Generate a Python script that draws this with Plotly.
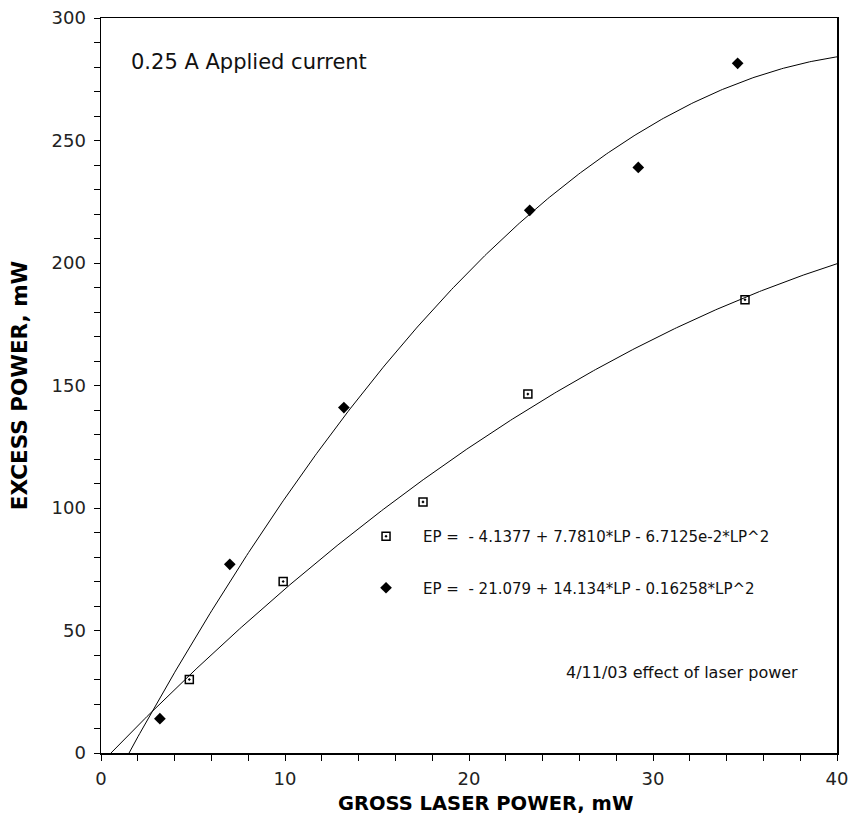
import numpy as np
import plotly.graph_objects as go

# Data
sq_x = [4.8, 9.9, 17.5, 23.2, 35.0]
sq_y = [30.0, 70.0, 102.5, 146.5, 185.0]
dia_x = [3.2, 7.0, 13.2, 23.3, 29.2, 34.6]
dia_y = [14.0, 77.0, 141.0, 221.5, 239.0, 281.5]

# Fit coefficients printed on the chart (c0, c1, c2)
sq_fit = [-4.1377, 7.7810, -6.7125e-2]
dia_fit = [-21.079, 14.134, -0.16258]

sq_label = "EP =  - 4.1377 + 7.7810*LP - 6.7125e-2*LP^2"
dia_label = "EP =  - 21.079 + 14.134*LP - 0.16258*LP^2"

x_title = "GROSS LASER POWER, mW"
y_title = "EXCESS POWER, mW"
note_top = "0.25 A Applied current"
note_bottom = "4/11/03 effect of laser power"

FONT = "DejaVu Sans"

fx = np.linspace(0, 40, 400)
def poly(c, x):
    return c[0] + c[1] * x + c[2] * x ** 2

fig = go.Figure()
fig.add_trace(go.Scatter(x=sq_x, y=sq_y, mode="markers", name=sq_label,
                         legendgroup="a",
                         marker=dict(symbol="square-open-dot", size=8, color="black",
                                     line=dict(width=1.5, color="black")),
                         cliponaxis=False))
fig.add_trace(go.Scatter(x=dia_x, y=dia_y, mode="markers", name=dia_label,
                         legendgroup="b",
                         marker=dict(symbol="diamond", size=9, color="black"),
                         cliponaxis=False))
fig.add_trace(go.Scatter(x=fx, y=poly(sq_fit, fx), mode="lines", showlegend=False,
                         line=dict(color="black", width=1)))
fig.add_trace(go.Scatter(x=fx, y=poly(dia_fit, fx), mode="lines", showlegend=False,
                         line=dict(color="black", width=1)))

axis_common = dict(showline=True, linecolor="black", linewidth=1.5, mirror=True,
                   ticks="outside", ticklen=6, tickwidth=1, tickcolor="black",
                   showgrid=False, zeroline=False, automargin=False,
                   ticklabeloverflow="allow",
                   tickfont=dict(family=FONT, size=18, color="#222"))

fig.update_xaxes(range=[0, 40], dtick=10, ticklabelstandoff=3,
                 minor=dict(dtick=2, ticks="outside", ticklen=6, tickcolor="black"),
                 **axis_common)
fig.update_yaxes(range=[0, 300], dtick=50, ticklabelstandoff=4,
                 minor=dict(dtick=10, ticks="outside", ticklen=6, tickcolor="black"),
                 title=dict(text=y_title, font=dict(family=FONT, size=21.5, color="black",
                                                     weight="bold"), standoff=18),
                 **axis_common)

fig.add_annotation(x=0.5, y=0, xref="paper", yref="paper", xanchor="center", yanchor="middle",
                   xshift=16, yshift=-50, text=x_title, showarrow=False,
                   font=dict(family=FONT, size=19.5, color="black", weight="bold"))
fig.add_annotation(x=0, y=1, xref="paper", yref="paper", xanchor="left", yanchor="middle",
                   xshift=28, yshift=-44, text=note_top, showarrow=False,
                   font=dict(family=FONT, size=21, color="#111"))
fig.add_annotation(x=1, y=0, xref="paper", yref="paper", xanchor="right", yanchor="middle",
                   xshift=-37, yshift=81, text=note_bottom, showarrow=False,
                   font=dict(family=FONT, size=16, color="#111"))

fig.update_layout(
    width=851, height=819,
    margin=dict(l=101, r=14, t=18, b=66),
    paper_bgcolor="white", plot_bgcolor="white",
    showlegend=True,
    hovermode=False,
    legend=dict(x=0.337, y=0.317, xanchor="left", yanchor="top", itemwidth=64,
                bgcolor="rgba(0,0,0,0)", tracegroupgap=29,
                font=dict(family=FONT, size=15, color="#111")),
)

fig.write_html(
    "out.html",
    config={"displayModeBar": False, "staticPlot": True},
    post_script="document.body.style.margin='0';document.body.style.overflow='hidden';",
)
